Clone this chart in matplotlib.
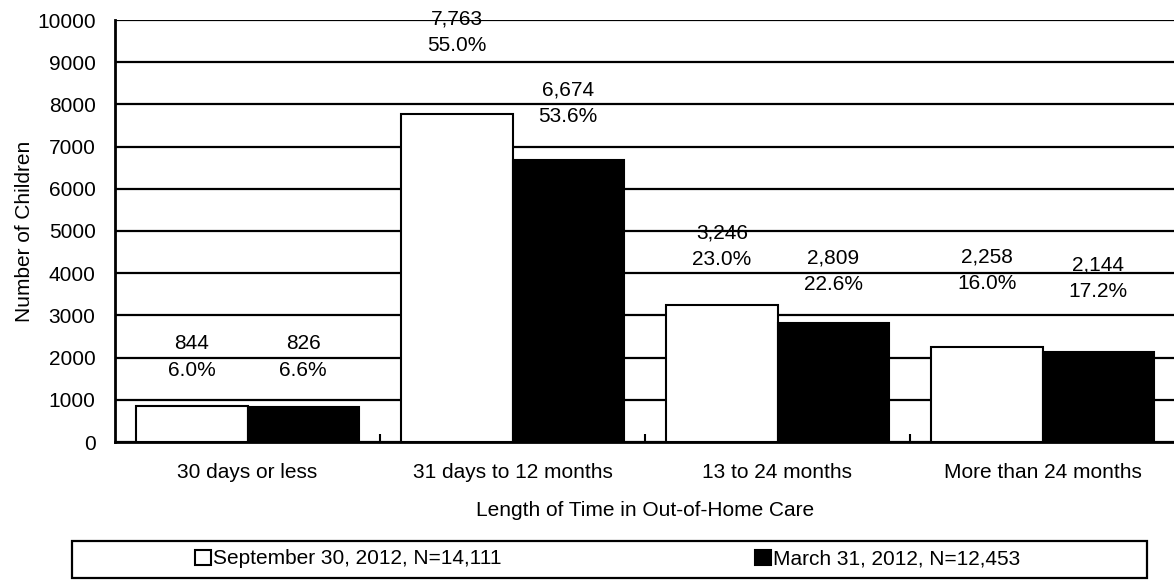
#!/usr/bin/env python3

import numpy as np
import matplotlib
matplotlib.use('Agg')

import matplotlib.pyplot as plt
from matplotlib.patches import Rectangle

categories = ["30 days or less", "31 days to 12 months", "13 to 24 months", "More than 24 months"]
sep_counts = [844, 7763, 3246, 2258]
sep_pcts = ["6.0%", "55.0%", "23.0%", "16.0%"]
mar_counts = [826, 6674, 2809, 2144]
mar_pcts = ["6.6%", "53.6%", "22.6%", "17.2%"]
series_names = ["September 30, 2012, N=14,111", "March 31, 2012, N=12,453"]

# where the two-line labels sit (data units, centre of the block)
sep_label_y = [2010, 9710, 4630, 4080]
mar_label_y = [2010, 8030, 4045, 3880]


def main():
    plt.rcParams['font.family'] = ['Liberation Sans', 'DejaVu Sans']
    fs = 15

    fig = plt.figure(figsize=(11.74, 5.8), dpi=100)
    ax = fig.add_axes([115 / 1174, 138 / 580, 1060 / 1174, 422 / 580])

    ind = np.arange(len(categories))
    width = 0.42

    ax.yaxis.grid(True, color='black', linewidth=1.6)
    ax.set_axisbelow(True)

    p1 = ax.bar(ind - width / 2, sep_counts, width, color='white',
                edgecolor='black', linewidth=1.5, zorder=3)
    p2 = ax.bar(ind + width / 2, mar_counts, width, color='black',
                edgecolor='black', linewidth=1.5, zorder=3)

    for i in ind:
        ax.text(i - width / 2, sep_label_y[i],
                "{:,}\n{}".format(sep_counts[i], sep_pcts[i]),
                ha='center', va='center', fontsize=fs, linespacing=1.5, zorder=4)
        ax.text(i + width / 2, mar_label_y[i],
                "{:,}\n{}".format(mar_counts[i], mar_pcts[i]),
                ha='center', va='center', fontsize=fs, linespacing=1.5, zorder=4)

    ax.set_xlim(-0.5, len(categories) - 0.5)
    ax.set_ylim(0, 10000)
    ax.set_yticks(np.arange(0, 10001, 1000))
    ax.tick_params(axis='y', length=0, labelsize=fs, pad=14)

    # category labels between small separator ticks
    ax.set_xticks(ind)
    ax.set_xticklabels(categories, fontsize=fs)
    ax.tick_params(axis='x', which='major', length=0, pad=15)
    ax.set_xticks(ind[:-1] + 0.5, minor=True)
    ax.tick_params(axis='x', which='minor', direction='in', length=6, width=1.5)

    for side in ('top', 'right'):
        ax.spines[side].set_visible(False)
    ax.spines['left'].set_linewidth(2)
    ax.spines['bottom'].set_linewidth(2)

    ax.set_ylabel("Number of Children", fontsize=fs)
    ax.yaxis.set_label_coords((34 - 115) / 1060, 0.5)
    ax.set_xlabel("Length of Time in Out-of-Home Care", fontsize=fs)
    ax.xaxis.set_label_coords(0.5, -(510 - 442) / 422)
    ax.xaxis.label.set_va('center')

    # legend box spanning the bottom of the figure
    fig.patches.append(Rectangle((72 / 1174, 2 / 580), 1075 / 1174, 37 / 580,
                                 transform=fig.transFigure, fill=False,
                                 edgecolor='black', linewidth=1.6))
    fig.legend((p1[0], p2[0]), series_names, ncol=2, loc='center left',
               bbox_to_anchor=(195 / 1174, 21 / 580), fontsize=fs,
               frameon=False, handlelength=0.75, handleheight=0.75,
               handletextpad=0.1, columnspacing=12.2, borderaxespad=0,
               borderpad=0)

    plt.savefig("out.png", dpi=100)


if __name__ == "__main__":
    main()
